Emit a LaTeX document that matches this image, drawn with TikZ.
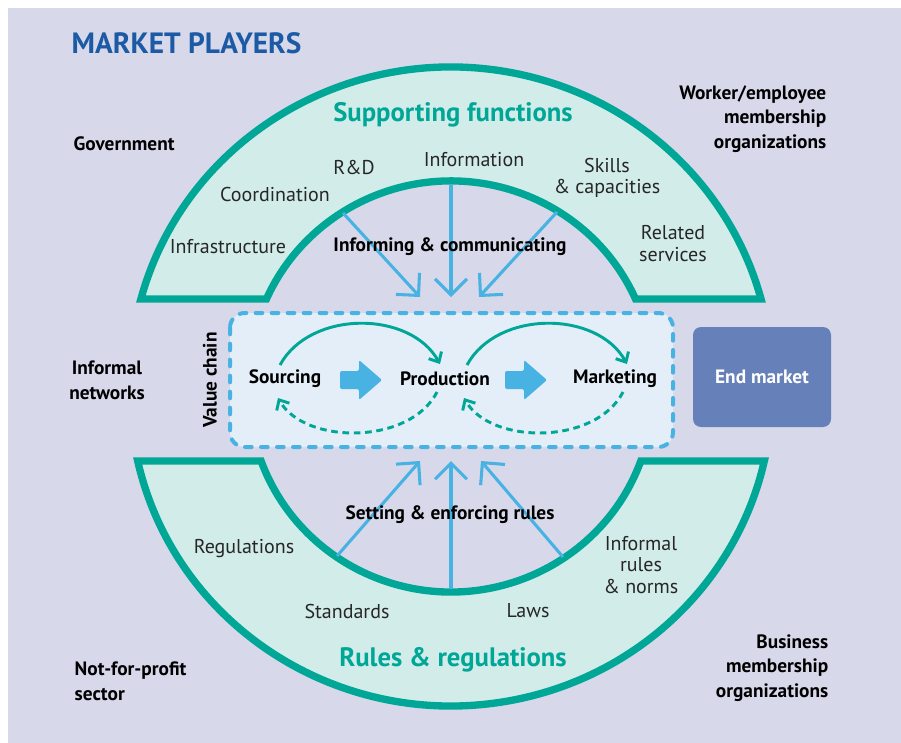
\documentclass[tikz,border=0pt]{standalone}
\usepackage{fontspec}
\setmainfont{PT Sans}
\usetikzlibrary{arrows.meta}

\definecolor{bgpurple}{RGB}{215,217,235}
\definecolor{tealline}{RGB}{0,166,150}
\definecolor{mintfill}{RGB}{210,236,234}
\definecolor{skyblue}{RGB}{72,178,226}
\definecolor{chainfill}{RGB}{228,238,248}
\definecolor{endblue}{RGB}{102,128,186}
\definecolor{titleblue}{RGB}{28,90,165}

\begin{document}
\begin{tikzpicture}[x=0.75pt,y=0.75pt,yscale=-1,xscale=1,
  arch/.style={draw=tealline,fill=mintfill,line width=5.5pt},
  chainbox/.style={draw=skyblue,fill=chainfill,line width=3pt,line cap=round,dash pattern=on 5pt off 7pt,rounded corners=11pt},
  influence/.style={draw=skyblue,line width=2.3pt,-{Straight Barb[length=12pt,width=24pt]}},
  flowarr/.style={draw=tealline,line width=2.2pt,-{Straight Barb[length=6pt,width=11pt]}},
  backarr/.style={flowarr,dash pattern=on 5pt off 3.5pt},
  blockarr/.style={fill=skyblue,rounded corners=1.5pt},
  player/.style={font=\bfseries\fontsize{14.5}{18.5}\selectfont,text=black},
  chainlbl/.style={font=\bfseries\fontsize{14.5}{16}\selectfont,text=black},
  func/.style={font=\fontsize{15}{16}\selectfont,text=black!85,align=center},
  heading/.style={font=\bfseries\fontsize{20}{24}\selectfont,text=tealline}]
\useasboundingbox (0,0) rectangle (901,743);
\fill[bgpurple] (8,8) rectangle (901,743);

% the two arches
\draw[arch] (140.9,299) arc[start angle=195, end angle=345, x radius=321, y radius=313] -- (635.5,299) arc[start angle=-24, end angle=-156, x radius=202, y radius=199] -- cycle;
\draw[arch] (137.7,461) arc[start angle=167.45, end angle=12.55, x radius=321, y radius=313] -- (640.8,461) arc[start angle=19.98, end angle=160.02, x radius=202, y radius=199] -- cycle;

% value chain box
\draw[chainbox] (230,313) rectangle (673,447);

% end market
\fill[endblue,rounded corners=6pt] (693,327) rectangle (831,427);

% arrow ends
\coordinate (sup1) at (343,213);
\coordinate (sup2) at (451,185);
\coordinate (sup3) at (557,212);
\coordinate (top1) at (420,297);
\coordinate (top2) at (451,297);
\coordinate (top3) at (479,297);
\coordinate (rul1) at (337,556);
\coordinate (rul2) at (451,589);
\coordinate (rul3) at (563,557);
\coordinate (bot1) at (420,461);
\coordinate (bot2) at (451,461);
\coordinate (bot3) at (481,461);

\draw[influence] (sup1) -- (top1);
\draw[influence] (sup2) -- (top2);
\draw[influence] (sup3) -- (top3);
\draw[influence] (rul1) -- (bot1);
\draw[influence] (rul2) -- (bot2);
\draw[influence] (rul3) -- (bot3);

% texts
\draw (67,43) node (title) [anchor=west,font=\bfseries\fontsize{22}{26}\selectfont,text=titleblue] {MARKET PLAYERS};
\draw (69,144) node (gov) [player,anchor=west] {Government};
\draw (831,119) node (worker) [player,anchor=east,align=right] {Worker/employee\\membership\\organizations};
\draw (107,380) node (informal) [player,align=center] {Informal\\networks};
\draw (70,681) node (nfp) [player,anchor=west,align=left] {Not-for-profit\\sector};
\draw (833,668) node (business) [player,anchor=east,align=right] {Business\\membership\\organizations};

\draw (453,115) node (supp) [heading] {Supporting functions};
\draw (453,660) node (rules) [heading] {Rules \& regulations};

\draw (354,167) node (rnd) [func] {R\&D};
\draw (474,160) node (info) [func] {Information};
\draw (275,194) node (coord) [func] {Coordination};
\draw (228,247) node (infra) [func] {Infrastructure};
\draw (607,178) node (skills) [func] {Skills\\\& capacities};
\draw (673,244) node (related) [func,font=\fontsize{15}{16.5}\selectfont] {Related\\services};
\draw (450,247) node (inform) [player] {Informing \& communicating};

\draw (450,515) node (setting) [player] {Setting \& enforcing rules};
\draw (244,549) node (regs) [func] {Regulations};
\draw (347,611) node (stand) [func] {Standards};
\draw (528,611) node (laws) [func] {Laws};
\draw (641,565) node (norms) [func] {Informal\\rules\\\& norms};

\draw (210,380) node (vchain) [chainlbl,rotate=90] {Value chain};
\draw (285,379) node (src) [chainlbl] {Sourcing};
\draw (445,379) node (prod) [chainlbl] {Production};
\draw (615,379) node (mkt) [chainlbl] {Marketing};
\draw (762,377) node (endm) [chainlbl,text=white] {End market};

% flows along the chain
\fill[blockarr] (340,371) -- (359,371) -- (359,360) -- (382,380) -- (359,400) -- (359,389) -- (340,389) -- cycle;
\fill[blockarr] (505,371) -- (524,371) -- (524,360) -- (547,380) -- (524,400) -- (524,389) -- (505,389) -- cycle;

\draw[flowarr] (280,365) .. controls (310,310) and (410,310) .. (440,364);
\draw[flowarr] (467,365) .. controls (497,310) and (597,310) .. (627,364);
\draw[backarr] (437,392) .. controls (410,445) and (305,445) .. (278,398);
\draw[backarr] (623,392) .. controls (596,445) and (491,445) .. (464,398);
\end{tikzpicture}
\end{document}
